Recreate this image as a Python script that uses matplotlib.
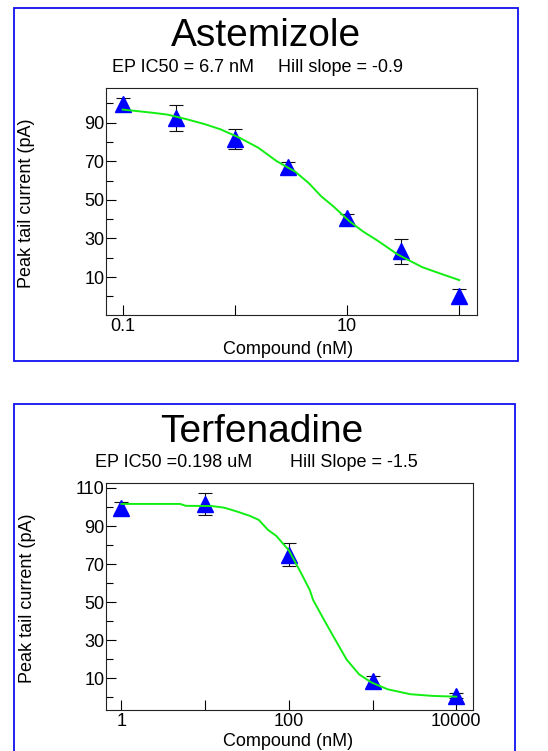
import matplotlib
matplotlib.use('Agg')
import matplotlib.pyplot as plt
from matplotlib.patches import Rectangle
from matplotlib.ticker import NullLocator

plt.rcParams['font.family'] = ['Liberation Sans', 'DejaVu Sans']

# Astemizole data (nM, pA)
ast_conc = [0.1, 0.3, 1, 3, 10, 30, 100]
ast_current = [99.7, 92.5, 81.6, 67.0, 40.5, 23.4, 0.3]
ast_err = [3.2, 6.6, 5.2, 2.7, 2.3, 6.5, 3.7]
# fitted curve
ast_fit_x = [0.1, 0.141, 0.195, 0.251, 0.372, 0.543, 0.75, 1.1, 1.62, 2.34,
             3.47, 4.57, 5.89, 7.59, 10.5, 13.8, 19.1, 28.2, 46.8, 64.6, 100]
ast_fit_y = [96.8, 95.9, 95.0, 94.2, 91.8, 89.2, 86.5, 82.2, 77.0, 70.2,
             64.5, 58.6, 51.8, 46.5, 38.9, 33.7, 28.5, 21.7, 15.1, 12.2, 8.4]

# Terfenadine data (nM, pA)
ter_conc = [1, 10, 100, 1000, 10000]
ter_current = [99.7, 101.5, 75.0, 8.5, 0.8]
ter_err = [3.1, 5.7, 6.1, 2.6, 1.2]
ter_fit_x = [1, 5.01, 5.89, 12.0, 17.0, 24.0, 33.9, 43.7, 56.2, 70.8, 100, 141,
             178, 195, 263, 331, 490, 692, 977, 1510, 2820, 5250, 10000]
ter_fit_y = [101.6, 101.6, 100.6, 100.5, 99.6, 97.6, 95.4, 93.2, 88.0, 84.8, 77.2,
             65.0, 56.3, 51.1, 40.7, 32.9, 19.8, 12.0, 7.7, 4.2, 1.6, 0.7, 0.3]

W, H = 548, 751
fig = plt.figure(figsize=(W / 100, H / 100), dpi=100)


def px_box(x0, y0, x1, y1):
    # pixel box (from top-left) -> figure fraction rect
    return [x0 / W, 1 - y1 / H, (x1 - x0) / W, (y1 - y0) / H]


def draw_panel(ax, conc, cur, err, fx, fy, xlim, ylim, xticks, xlabels, yticks, yminor):
    ax.set_xscale('log')
    ax.errorbar(conc, cur, yerr=err, fmt='none', ecolor='#111111', elinewidth=0.8,
                capsize=5, capthick=0.8, zorder=2)
    ax.plot(conc, cur, linestyle='none', marker='^', markersize=11,
            color='#0000ff', zorder=3)
    ax.plot(fx, fy, color='#11ee11', linewidth=1.4, zorder=4)
    ax.set_xlim(*xlim)
    ax.set_ylim(*ylim)
    ax.set_xticks(xticks)
    ax.set_xticklabels(xlabels)
    ax.xaxis.set_minor_locator(NullLocator())
    ax.set_yticks(yticks)
    ax.set_yticks(yminor, minor=True)
    ax.tick_params(axis='both', which='major', direction='in', length=7.2,
                   width=0.8, labelsize=13)
    ax.tick_params(axis='both', which='minor', direction='in', length=5, width=0.8)
    ax.tick_params(axis='y', pad=1)
    ax.tick_params(axis='x', pad=2.5)
    for s in ax.spines.values():
        s.set_linewidth(0.8)
        s.set_color('#222222')


# ---- top panel: Astemizole
fig.add_artist(Rectangle((14 / W, 1 - 361 / H), 504 / W, 353 / H,
                         transform=fig.transFigure, fill=False,
                         edgecolor='#1010f0', linewidth=1.3))
ax1 = fig.add_axes(px_box(106, 88, 477, 315))
draw_panel(ax1, ast_conc, ast_current, ast_err, ast_fit_x, ast_fit_y,
           (0.071, 143.9), (-9.7, 108.0),
           [0.1, 1, 10, 100], ['0.1', '', '10', ''],
           [10, 30, 50, 70, 90], [0, 20, 40, 60, 80, 100])
fig.text(266 / W, 1 - 46 / H, 'Astemizole', fontsize=28, ha='center', va='baseline')
fig.text(112 / W, 1 - 71.5 / H, 'EP IC50 = 6.7 nM', fontsize=13, ha='left', va='baseline')
fig.text(278 / W, 1 - 71.5 / H, 'Hill slope = -0.9', fontsize=13, ha='left', va='baseline')
fig.text(27 / W, 1 - 203 / H, 'Peak tail current (pA)', fontsize=13, rotation=90,
         ha='center', va='center')
fig.text(288 / W, 1 - 353.5 / H, 'Compound (nM)', fontsize=13, ha='center', va='baseline')

# ---- bottom panel: Terfenadine
fig.add_artist(Rectangle((14 / W, 1 - 760 / H), 501 / W, 356 / H,
                         transform=fig.transFigure, fill=False,
                         edgecolor='#1010f0', linewidth=1.3))
ax2 = fig.add_axes(px_box(106, 483, 473, 710))
draw_panel(ax2, ter_conc, ter_current, ter_err, ter_fit_x, ter_fit_y,
           (0.654, 15840), (-6.7, 112.6),
           [1, 10, 100, 1000, 10000], ['1', '', '100', '', '10000'],
           [10, 30, 50, 70, 90, 110], [0, 20, 40, 60, 80, 100])
fig.text(262 / W, 1 - 441.5 / H, 'Terfenadine', fontsize=28, ha='center', va='baseline')
fig.text(95 / W, 1 - 467 / H, 'EP IC50 =0.198 uM', fontsize=13, ha='left', va='baseline')
fig.text(290 / W, 1 - 467 / H, 'Hill Slope = -1.5', fontsize=13, ha='left', va='baseline')
fig.text(27.5 / W, 1 - 598 / H, 'Peak tail current (pA)', fontsize=13, rotation=90,
         ha='center', va='center')
fig.text(288 / W, 1 - 746.5 / H, 'Compound (nM)', fontsize=13, ha='center', va='baseline')

fig.savefig('out.png', dpi=100)
